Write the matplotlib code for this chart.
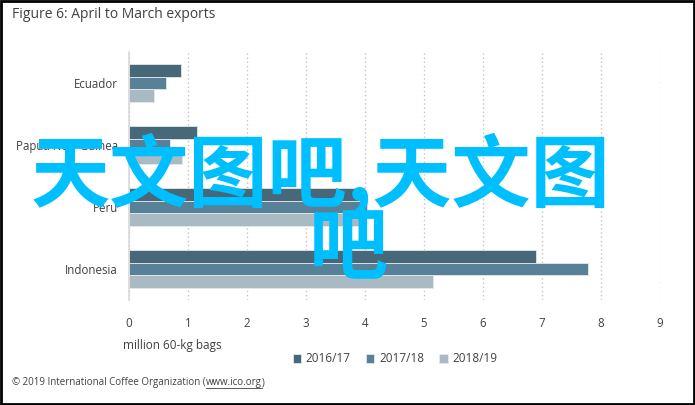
import numpy as np
import matplotlib.pyplot as plt
from matplotlib.patches import Rectangle

plt.rcParams['font.family'] = ['Open Sans', 'DejaVu Sans']

# Data
countries = ['Ecuador', 'Papua New Guinea', 'Peru', 'Indonesia']
seasons = ['2016/17', '2017/18', '2018/19']
v_2016 = [0.88, 1.15, 4.00, 6.90]
v_2017 = [0.63, 0.70, 4.03, 7.78]
v_2018 = [0.42, 0.90, 3.90, 5.15]
colors = ['#466878', '#588096', '#a9bac3']

fig = plt.figure(figsize=(6.95, 4.05), dpi=100)
ax = fig.add_axes([129 / 695, 1 - 300 / 405, 531 / 695, 248 / 405])

y = np.arange(len(countries))
h = 0.205
for i, (vals, c, lab) in enumerate(zip([v_2016, v_2017, v_2018], colors, seasons)):
    ax.barh(y + (i - 1) * h, vals, height=h, color=c, label=lab,
            edgecolor='#e3e8eb', linewidth=0.6)

ax.set_xlim(0, 9)
ax.set_ylim(3.5, -0.5)
ax.set_xticks(range(10))
ax.set_yticks(y)
ax.set_yticklabels(countries)
ax.tick_params(length=0, labelsize=8.3, labelcolor='#404040')
ax.tick_params(axis='x', pad=12)
ax.tick_params(axis='y', pad=8)
ax.grid(axis='x', color='#c4c4c4', linestyle=(0, (1, 2)), linewidth=1)
ax.set_axisbelow(True)
for s in ['top', 'right', 'bottom']:
    ax.spines[s].set_visible(False)
ax.spines['left'].set_color('#d9d9d9')
ax.spines['left'].set_linewidth(1.2)

fig.text(123 / 695, 1 - 345 / 405, 'million 60-kg bags', fontsize=8.5,
         color='#404040', va='center')
fig.legend(loc='center', bbox_to_anchor=(395 / 695, 1 - 359 / 405), ncol=3,
           frameon=False, fontsize=8.5, handlelength=0.7, handleheight=0.7,
           handletextpad=0.4, columnspacing=1.3, labelcolor='#404040')

fig.text(12 / 695, 1 - 15 / 405, 'Figure 6: April to March exports', fontsize=10,
         color='#404040', va='center')

# footer with underlined link
t1 = fig.text(12 / 695, 1 - 383 / 405,
              '\u00a9 2019 International Coffee Organization (', fontsize=7,
              color='#404040', va='center')
fig.canvas.draw()
r = fig.canvas.get_renderer()
bb = t1.get_window_extent(r)
t2 = fig.text(bb.x1 / fig.bbox.width, 1 - 383 / 405, 'www.ico.org', fontsize=7,
              color='#404040', va='center')
bb2 = t2.get_window_extent(r)
fig.text(bb2.x1 / fig.bbox.width, 1 - 383 / 405, ')', fontsize=7,
         color='#404040', va='center')
fig.add_artist(plt.Line2D([bb2.x0 / fig.bbox.width, bb2.x1 / fig.bbox.width],
                          [bb2.y0 / fig.bbox.height + 0.002] * 2,
                          color='#404040', linewidth=0.6))

# frame around the picture
fig.add_artist(Rectangle((0.002, 0.003), 0.996, 0.994, transform=fig.transFigure,
                         fill=False, edgecolor='black', linewidth=2))

# watermark
cjk = ['Noto Sans CJK SC', 'DejaVu Sans']
fig.text(320 / 695, 1 - 175 / 405, '天文图吧,天文图', fontsize=57, fontweight='bold',
         color='#00bfff', ha='center', va='center', family=cjk)
fig.text(348 / 695, 1 - 250 / 405, '吧', fontsize=57, fontweight='bold',
         color='#00bfff', ha='center', va='center', family=cjk)

fig.savefig('out.png', dpi=100)
